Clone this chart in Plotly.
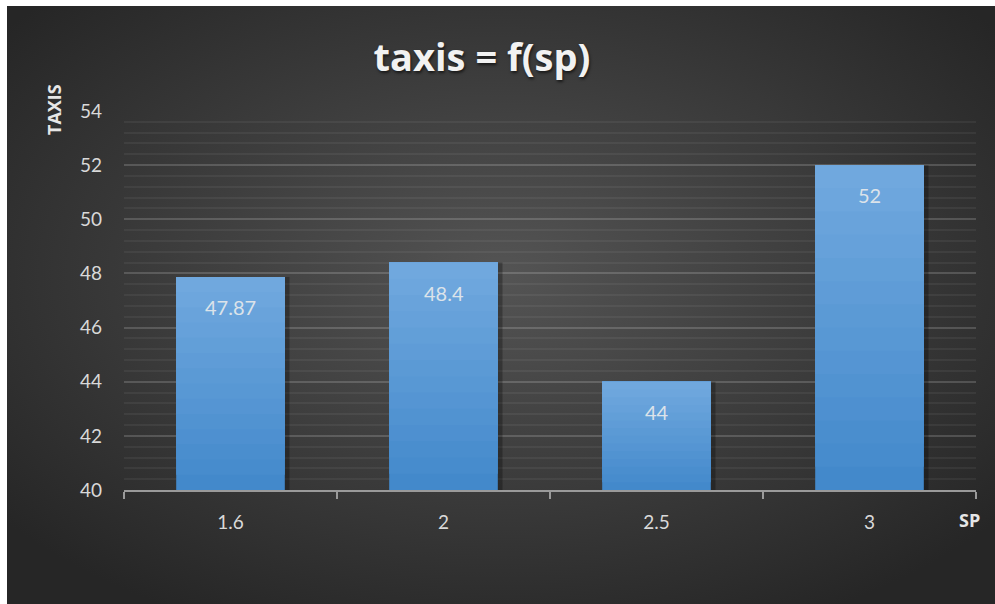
import base64
import plotly.graph_objects as go

# Chart data
categories = ["1.6", "2", "2.5", "3"]
taxis_values = [47.87, 48.4, 44, 52]
y_ticks = [40, 42, 44, 46, 48, 50, 52, 54]

Y_MIN, Y_MAX = 40, 54
FIG_W, FIG_H = 995, 604
M_L, M_R, M_T, M_B = 124, 19, 111, 114
PLOT_W = FIG_W - M_L - M_R
PLOT_H = FIG_H - M_T - M_B


def px_to_paper_x(px):
    return (px - M_L) / PLOT_W


def px_to_paper_y(py):
    return (FIG_H - M_B - py) / PLOT_H


# Dark radial-gradient backdrop as an inline SVG
svg = (
    '<svg xmlns="http://www.w3.org/2000/svg" width="988" height="598" '
    'viewBox="0 0 988 598" preserveAspectRatio="none">'
    '<defs><radialGradient id="g" cx="50%" cy="45%" r="65%">'
    '<stop offset="0" stop-color="#545454"/>'
    '<stop offset="1" stop-color="#262626"/>'
    '</radialGradient></defs>'
    '<rect width="988" height="598" fill="url(#g)"/></svg>'
)
bg_uri = "data:image/svg+xml;base64," + base64.b64encode(svg.encode()).decode()

fig = go.Figure()

# Soft drop shadow behind each bar
fig.add_trace(go.Bar(
    x=categories,
    y=[v - Y_MIN for v in taxis_values],
    base=[Y_MIN] * len(taxis_values),
    offset=-0.245 + 0.012, width=0.51,
    marker=dict(color="rgba(0,0,0,0.28)", line=dict(width=0)),
    hoverinfo="skip", showlegend=False,
))

# Bars with a vertical colour gradient: stacked overlays that all end at the bar top
n_layers = 14
bottom_rgb = (64, 135, 202)
top_rgb = (112, 168, 222)
for k in range(n_layers):
    t = k / n_layers
    f = t + 1 / n_layers
    r = round(bottom_rgb[0] + (top_rgb[0] - bottom_rgb[0]) * f)
    g = round(bottom_rgb[1] + (top_rgb[1] - bottom_rgb[1]) * f)
    b = round(bottom_rgb[2] + (top_rgb[2] - bottom_rgb[2]) * f)
    bases = [Y_MIN + (v - Y_MIN) * t for v in taxis_values]
    heights = [(v - Y_MIN) * (1 - t) for v in taxis_values]
    fig.add_trace(go.Bar(
        x=categories,
        y=heights,
        base=bases,
        offset=-0.255, width=0.51,
        marker=dict(color=f"rgb({r},{g},{b})", line=dict(width=0)),
        hoverinfo="skip",
        showlegend=False,
    ))

# Value labels inside each bar near its top (x given as category index)
for i, val in enumerate(taxis_values):
    fig.add_annotation(
        x=i, y=val, xref="x", yref="y",
        text=f"{val:g}", showarrow=False,
        yanchor="top", yshift=-16,
        font=dict(family="Lato, sans-serif", size=20, color="#dce3ea"),
    )

# Axis titles
fig.add_annotation(
    x=px_to_paper_x(54), y=px_to_paper_y(110), xref="paper", yref="paper",
    text="<b>TAXIS</b>", textangle=-90, showarrow=False,
    xanchor="center", yanchor="middle",
    font=dict(family="Open Sans, sans-serif", size=18, color="#e6e6e6"),
)
fig.add_annotation(
    x=px_to_paper_x(969), y=px_to_paper_y(520), xref="paper", yref="paper",
    text="<b>SP</b>", showarrow=False,
    xanchor="center", yanchor="middle",
    font=dict(family="Open Sans, sans-serif", size=18, color="#e6e6e6"),
)

fig.add_layout_image(
    source=bg_uri, xref="paper", yref="paper",
    x=px_to_paper_x(7), y=px_to_paper_y(6),
    sizex=px_to_paper_x(995) - px_to_paper_x(7),
    sizey=px_to_paper_y(6) - px_to_paper_y(604),
    xanchor="left", yanchor="top", sizing="stretch", layer="below",
)

fig.update_layout(
    width=FIG_W, height=FIG_H,
    margin=dict(l=M_L, r=M_R, t=M_T, b=M_B, pad=0),
    paper_bgcolor="white",
    plot_bgcolor="rgba(0,0,0,0)",
    barmode="overlay",
    title=dict(
        text="<b>taxis = f(sp)</b>",
        x=482 / FIG_W, xanchor="center",
        y=1 - 58 / FIG_H, yanchor="middle",
        font=dict(family="Open Sans, sans-serif", size=38, color="#f2f2f2",
                  shadow="1px 2px 3px rgba(0,0,0,0.6)"),
    ),
    font=dict(family="Lato, sans-serif", color="#d9d9d9"),
)

fig.update_xaxes(
    type="category",
    categoryorder="array", categoryarray=categories,
    showline=True, linecolor="#9a9a9a", linewidth=2,
    ticks="outside", tickson="boundaries", ticklen=7, tickcolor="#9a9a9a", tickwidth=2,
    showgrid=False, zeroline=False,
    tickfont=dict(family="Lato, sans-serif", size=19, color="#d9d9d9"),
    ticklabelstandoff=14,
)

fig.update_yaxes(
    range=[Y_MIN, Y_MAX],
    tickmode="array", tickvals=y_ticks, ticktext=[str(v) for v in y_ticks],
    showline=False, zeroline=False,
    showgrid=True, gridcolor="rgba(255,255,255,0.12)", gridwidth=1.5,
    minor=dict(dtick=0.4, showgrid=True, gridcolor="rgba(255,255,255,0.055)", gridwidth=1.5),
    tickfont=dict(family="Lato, sans-serif", size=19, color="#d9d9d9"),
    ticklabelstandoff=21,
)

fig.write_html("out.html")
